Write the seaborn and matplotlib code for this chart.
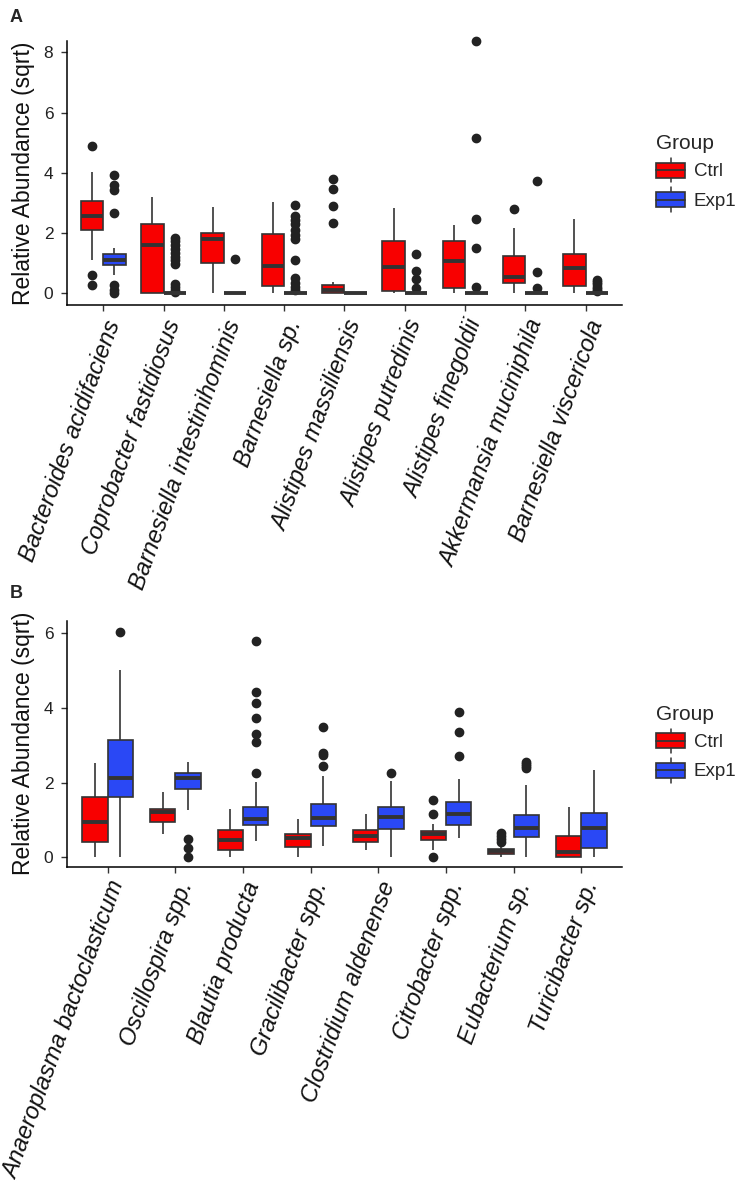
import matplotlib

matplotlib.use("Agg")

import matplotlib.pyplot as plt
import pandas as pd
import seaborn as sns
from matplotlib.legend_handler import HandlerBase
from matplotlib.lines import Line2D
from matplotlib.patches import Patch, Rectangle

# --------------------------------------------------------------------------- #
# data: per box whisker low, Q1, median, Q3, whisker high, outlying points
# --------------------------------------------------------------------------- #
groups = ["Ctrl", "Exp1"]

species_a = ["Bacteroides acidifaciens", "Coprobacter fastidiosus",
             "Barnesiella intestinihominis", "Barnesiella sp.",
             "Alistipes massiliensis", "Alistipes putredinis",
             "Alistipes finegoldii", "Akkermansia muciniphila",
             "Barnesiella viscericola"]

ctrl_a_lo = [1.10, 0.00, 0.00, 0.00, 0.00, 0.00, 0.00, 0.00, 0.00]
ctrl_a_q1 = [2.10, 0.00, 1.00, 0.25, 0.02, 0.09, 0.17, 0.35, 0.25]
ctrl_a_med = [2.57, 1.60, 1.79, 0.92, 0.11, 0.88, 1.08, 0.53, 0.83]
ctrl_a_q3 = [3.06, 2.30, 1.99, 1.97, 0.28, 1.74, 1.74, 1.24, 1.30]
ctrl_a_hi = [4.02, 3.19, 2.86, 3.04, 0.38, 2.82, 2.26, 2.18, 2.46]
ctrl_a_out = [[0.28, 0.60, 4.89], [], [], [], [2.33, 2.91, 3.47, 3.80],
              [], [], [2.80], []]

exp_a_lo = [0.60, 0.00, 0.00, 0.00, 0.00, 0.00, 0.00, 0.00, 0.00]
exp_a_q1 = [0.94, 0.00, 0.00, 0.00, 0.00, 0.00, 0.00, 0.00, 0.00]
exp_a_med = [1.10, 0.00, 0.00, 0.00, 0.00, 0.00, 0.00, 0.00, 0.00]
exp_a_q3 = [1.30, 0.00, 0.00, 0.00, 0.00, 0.00, 0.00, 0.00, 0.00]
exp_a_hi = [1.50, 0.00, 0.00, 0.00, 0.00, 0.00, 0.00, 0.00, 0.00]
exp_a_out = [[0.00, 0.11, 0.28, 2.68, 3.43, 3.60, 3.93],
             [0.05, 0.12, 0.20, 0.30, 0.98, 1.10, 1.22, 1.35, 1.48, 1.60, 1.72, 1.83],
             [1.13],
             [0.11, 0.20, 0.33, 0.50, 1.11, 1.79, 1.94, 2.10, 2.30, 2.44, 2.55, 2.93],
             [],
             [0.17, 0.47, 0.75, 1.31],
             [0.20, 1.50, 2.47, 5.17, 8.38],
             [0.17, 0.70, 3.73],
             [0.08, 0.15, 0.22, 0.30, 0.38, 0.45]]

species_b = ["Anaeroplasma bactoclasticum", "Oscillospira spp.",
             "Blautia producta", "Gracilibacter spp.", "Clostridium aldenense",
             "Citrobacter spp.", "Eubacterium sp.", "Turicibacter sp."]

ctrl_b_lo = [0.00, 0.64, 0.00, 0.00, 0.21, 0.21, 0.00, 0.00]
ctrl_b_q1 = [0.42, 0.95, 0.20, 0.27, 0.40, 0.46, 0.10, 0.00]
ctrl_b_med = [0.94, 1.21, 0.46, 0.51, 0.57, 0.62, 0.16, 0.15]
ctrl_b_q3 = [1.61, 1.31, 0.73, 0.62, 0.73, 0.72, 0.22, 0.57]
ctrl_b_hi = [2.52, 1.74, 1.31, 1.02, 1.15, 0.89, 0.28, 1.34]
ctrl_b_out = [[], [], [], [], [], [0.00, 1.16, 1.54], [0.42, 0.50, 0.58, 0.66], []]

exp_b_lo = [0.00, 1.27, 0.43, 0.30, 0.00, 0.51, 0.00, 0.00]
exp_b_q1 = [1.62, 1.83, 0.87, 0.84, 0.76, 0.88, 0.54, 0.26]
exp_b_med = [2.14, 2.12, 1.02, 1.06, 1.09, 1.15, 0.80, 0.79]
exp_b_q3 = [3.14, 2.25, 1.34, 1.44, 1.35, 1.49, 1.13, 1.20]
exp_b_hi = [5.02, 2.56, 2.03, 2.18, 2.05, 2.09, 1.94, 2.34]
exp_b_out = [[6.04], [0.00, 0.24, 0.48],
             [2.25, 3.10, 3.31, 3.73, 4.13, 4.44, 5.81],
             [2.46, 2.75, 2.80, 3.50], [2.27], [2.72, 3.36, 3.89],
             [2.40, 2.45, 2.50, 2.55], []]

RED = "#F80000"
BLUE = "#2A48F5"
LINE = "#333333"
PALETTE = {"Ctrl": RED, "Exp1": BLUE}


def box_sample(lo, q1, med, q3, hi, out):
    """Smallest sample (n = 4k+1) whose boxplot stats are exactly these."""
    below = sorted(v for v in out if v < q1)
    above = sorted(v for v in out if v > q3)
    k = max(len(below), len(above)) + 1
    return (below + [lo] + [q1] * (k - len(below))
            + [med] * k
            + [q3] * (2 * k - 1 - len(above)) + [hi] + above)


def long_frame(species, stats_by_group):
    rows = []
    for group, stats in stats_by_group.items():
        for i, name in enumerate(species):
            for v in box_sample(*(s[i] for s in stats)):
                rows.append({"species": name, "group": group, "value": v})
    return pd.DataFrame(rows)


df_a = long_frame(species_a, {
    "Ctrl": (ctrl_a_lo, ctrl_a_q1, ctrl_a_med, ctrl_a_q3, ctrl_a_hi, ctrl_a_out),
    "Exp1": (exp_a_lo, exp_a_q1, exp_a_med, exp_a_q3, exp_a_hi, exp_a_out)})
df_b = long_frame(species_b, {
    "Ctrl": (ctrl_b_lo, ctrl_b_q1, ctrl_b_med, ctrl_b_q3, ctrl_b_hi, ctrl_b_out),
    "Exp1": (exp_b_lo, exp_b_q1, exp_b_med, exp_b_q3, exp_b_hi, exp_b_out)})


class BoxKey(HandlerBase):
    """ggplot-style legend key: box with median bar and whisker stubs."""

    def create_artists(self, legend, orig, xdescent, ydescent, width, height,
                       fontsize, trans):
        x0, y0 = -xdescent, -ydescent
        bh = height * 0.6
        by = y0 + (height - bh) / 2
        cx = x0 + width / 2
        rect = Rectangle((x0, by), width, bh, facecolor=orig.get_facecolor(),
                         edgecolor=LINE, lw=1.2, transform=trans)
        med = Line2D([x0, x0 + width], [y0 + height / 2] * 2, color=LINE,
                     lw=1.3, transform=trans)
        w1 = Line2D([cx, cx], [y0, by], color=LINE, lw=1.1, transform=trans)
        w2 = Line2D([cx, cx], [by + bh, y0 + height], color=LINE, lw=1.1,
                    transform=trans)
        return [w1, w2, rect, med]


sns.set_theme(style="ticks")
plt.rcParams["font.family"] = ["Liberation Sans", "DejaVu Sans"]

fig = plt.figure(figsize=(7.45, 11.86), dpi=100)
ax_a = fig.add_axes([0.0899, 0.7426, 0.745, 0.2231])
ax_b = fig.add_axes([0.0899, 0.2692, 0.745, 0.2074])

for ax, df, species, ylim, yticks in (
        (ax_a, df_a, species_a, (-0.40, 8.39), [0, 2, 4, 6, 8]),
        (ax_b, df_b, species_b, (-0.25, 6.34), [0, 2, 4, 6])):
    sns.boxplot(data=df, x="species", y="value", hue="group", order=species,
                hue_order=groups, palette=PALETTE, width=0.75, gap=0,
                linewidth=1.2, linecolor=LINE, showcaps=False, legend=False,
                saturation=1, ax=ax,
                medianprops=dict(color=LINE, linewidth=2.8),
                flierprops=dict(marker="o", markerfacecolor="#222222",
                                markeredgecolor="#222222", markersize=6,
                                clip_on=False))
    ax.set_xlim(-0.6, len(species) - 0.4)
    ax.set_ylim(*ylim)
    ax.set_yticks(yticks)
    ax.set_yticklabels([str(t) for t in yticks], fontsize=12.5, color="#222222")
    ax.set_xticks(range(len(species)))
    ax.set_xticklabels(species, rotation=70, ha="right", va="top",
                       rotation_mode="anchor", fontstyle="italic", fontsize=17,
                       color="#111111")
    ax.set_xlabel("")
    ax.set_ylabel("Relative Abundance (sqrt)", fontsize=16.5, labelpad=6,
                  color="#111111")
    ax.tick_params(axis="both", length=4.3, width=1, color=LINE)
    ax.tick_params(axis="y", pad=5.5)
    ax.tick_params(axis="x", pad=4)
    for side in ("top", "right"):
        ax.spines[side].set_visible(False)
    for side in ("left", "bottom"):
        ax.spines[side].set_color("black")
        ax.spines[side].set_linewidth(1.1)

    handles = [Patch(facecolor=PALETTE[g], edgecolor=LINE) for g in groups]
    ax.legend(handles, groups, title="Group", loc="center left",
              bbox_to_anchor=(1.045, 0.5), frameon=False, fontsize=13.5,
              title_fontsize=15, handlelength=1.55, handleheight=1.65,
              handletextpad=0.45, labelspacing=0.25, borderpad=0,
              alignment="left", handler_map={Patch: BoxKey()})

fig.text(0.013, 1 - 22 / 1186, "A", fontsize=13, fontweight="bold")
fig.text(0.013, 1 - 598 / 1186, "B", fontsize=13, fontweight="bold")

fig.savefig("out.png", dpi=100)
plt.close(fig)
